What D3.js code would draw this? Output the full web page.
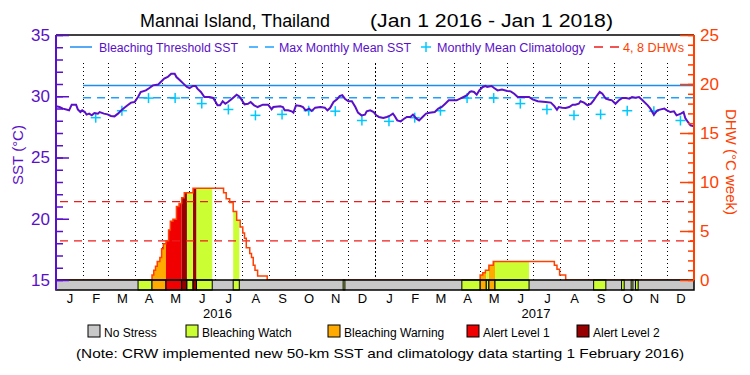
<!DOCTYPE html>
<html>
<head>
<meta charset="utf-8">
<title>Mannai Island, Thailand</title>
<script src="https://d3js.org/d3.v7.min.js"></script>
<style>
  body { margin: 0; background: #fff; }
  text { font-family: "Liberation Sans", Arial, sans-serif; }
</style>
</head>
<body>
<script>

//Daily SST, day counted from Jan 1 2016
var sstDay = [0, 4, 8, 15, 18, 23, 25, 28, 30, 33, 35, 38, 41, 44, 48, 50, 55, 59, 63, 67,
  71, 75, 78, 82, 86, 90, 94, 97, 103, 107, 111, 117, 120, 124, 128, 132, 136, 138, 142, 146,
  150, 153, 157, 160, 162, 166, 170, 176, 180, 183, 185, 188, 191, 194, 197, 201, 204, 207, 210, 213,
  216, 220, 223, 227, 231, 237, 243, 246, 247, 249, 257, 260, 262, 266, 270, 272, 275, 280, 283, 286,
  290, 293, 297, 303, 308, 311, 314, 318, 322, 325, 328, 331, 335, 339, 343, 346, 350, 354, 356, 360,
  364, 367, 370, 375, 379, 382, 386, 388, 391, 395, 398, 402, 406, 409, 413, 416, 420, 424, 428, 434,
  438, 442, 446, 450, 453, 459, 463, 467, 471, 474, 476, 479, 482, 485, 489, 492, 494, 499, 502, 506,
  511, 517, 521, 525, 529, 536, 542, 546, 552, 561, 567, 571, 574, 576, 580, 584, 588, 592, 595, 599,
  601, 605, 609, 613, 616, 620, 623, 626, 630, 634, 637, 641, 645, 649, 653, 657, 660, 664, 668, 672,
  678, 681, 685, 689, 693, 697, 700, 704, 708, 711, 716, 719, 721, 724, 727, 731];
var sstValue = [29.18, 29.12, 28.99, 28.85, 29.31, 29.31, 28.93, 28.71, 28.85, 28.71, 28.50, 28.58, 28.44, 28.63, 28.58, 28.71, 28.58, 28.52, 28.39, 28.36,
  28.58, 28.85, 29.04, 29.26, 29.48, 29.53, 29.94, 30.35, 30.48, 30.67, 30.89, 30.95, 31.16, 31.44, 31.57, 31.84, 31.84, 31.57, 31.30, 31.03,
  30.76, 30.67, 30.84, 30.84, 30.62, 30.35, 29.94, 29.94, 29.86, 29.53, 29.26, 29.26, 29.59, 29.39, 29.53, 29.75, 29.94, 30.13, 29.99, 29.67,
  29.34, 29.39, 29.53, 29.26, 29.12, 29.31, 29.31, 29.04, 28.93, 29.12, 29.18, 29.12, 28.85, 28.85, 28.77, 28.66, 29.26, 29.20, 29.12, 28.85,
  28.99, 28.80, 29.07, 29.12, 29.07, 28.85, 29.04, 29.53, 29.75, 30.02, 30.08, 29.80, 29.59, 29.59, 29.12, 28.66, 28.44, 28.50, 28.77, 28.85,
  28.71, 28.44, 28.31, 28.22, 28.31, 28.39, 28.58, 28.39, 28.03, 27.95, 28.12, 28.31, 28.31, 28.50, 28.17, 28.03, 28.31, 28.58, 28.66, 28.71,
  28.99, 29.12, 29.39, 29.67, 29.67, 29.67, 29.80, 29.94, 30.08, 30.35, 30.40, 30.35, 30.13, 30.48, 30.76, 30.84, 30.76, 30.84, 30.67, 30.48,
  30.54, 30.43, 30.40, 30.21, 29.94, 29.94, 29.94, 29.75, 29.59, 29.53, 29.48, 29.20, 28.90, 29.12, 29.07, 29.04, 29.12, 29.31, 29.31, 29.39,
  29.59, 29.48, 29.26, 29.39, 29.67, 30.08, 30.35, 30.21, 29.80, 29.72, 29.67, 29.39, 29.67, 29.86, 29.86, 29.80, 29.94, 29.88, 29.94, 29.67,
  29.26, 28.99, 28.50, 28.85, 28.93, 28.99, 28.85, 28.71, 28.77, 28.44, 28.58, 28.71, 28.22, 27.90, 27.63, 27.54];

//Monthly mean climatology, Jan..Dec (shown from Feb 2016)
var climValue = [27.95, 28.25, 28.82, 29.85, 29.85, 29.40, 28.92, 28.44, 28.52, 28.82, 28.78, 28.02];
var climStartDay = 31;
var mmmSST = 29.87;
var thresholdSST = 30.87;
var dhwLevels = [4, 8];

//Degree heating weeks (step values)
var dhwDay = [0, 110, 112, 114, 116, 119, 121, 123, 126, 129, 131, 134, 138, 141, 144, 147, 157,
  192, 195, 199, 203, 207, 211, 214, 216, 218, 222, 224, 226, 228, 231, 242,
  486, 489, 492, 496, 501, 571, 574, 577, 584, 731];
var dhwValue = [0, 0.5, 1.0, 1.4, 1.9, 2.3, 3.2, 3.7, 4.0, 5.1, 6.0, 6.2, 7.5, 7.8, 8.4, 8.9, 9.35,
  8.9, 8.3, 7.9, 7.0, 6.1, 5.4, 4.8, 4.25, 3.3, 2.7, 2.3, 1.5, 1.0, 0.4, 0,
  0.5, 0.75, 1.0, 1.5, 1.9, 1.5, 1.1, 0.5, 0, 0];

//Bleaching stress periods (level: 1 watch, 2 warning, 3 alert 1, 4 alert 2)
var stressStart = [94, 110, 126, 144, 150, 157, 161, 203, 329, 465, 486, 493, 496, 503, 616, 648, 659, 664];
var stressEnd   = [110, 126, 144, 150, 157, 161, 179, 210, 331, 486, 493, 496, 503, 542, 630, 651, 661, 667];
var stressLevel = [1, 2, 3, 4, 1, 4, 1, 1, 1, 1, 2, 1, 2, 1, 1, 1, 1, 1];
var stressNames = ["No Stress", "Bleaching Watch", "Bleaching Warning", "Alert Level 1", "Alert Level 2"];
var stressColors = ["#c8c8c8", "#ccff33", "#ffaa00", "#f00000", "#960000"];

var monthLabels = ["J", "F", "M", "A", "M", "J", "J", "A", "S", "O", "N", "D"];
var yearLabels = ["2016", "2017"];
var sstTicks = [15, 20, 25, 30, 35];
var dhwTicks = [0, 5, 10, 15, 20, 25];

var purple = "#5a0fc8", orange = "#ff4000";

var w = 750, h = 375;
var t0 = Date.UTC(2016, 0, 1);
function dayDate(d) { return new Date(t0 + d * 864e5); }

var svg = d3.select("body").append("svg")
  .attr("width", w).attr("height", h);

var x = d3.scaleUtc().domain([dayDate(0), dayDate(731)]).range([56, 694]);
var ySST = d3.scaleLinear().domain([15, 35]).range([280, 35]);
var yDHW = d3.scaleLinear().domain([0, 25]).range([280, 35]);

//Title
svg.append("text").attr("x", 140).attr("y", 27).attr("font-size", "17.5px")
  .attr("textLength", 190).attr("lengthAdjust", "spacingAndGlyphs")
  .text("Mannai Island, Thailand");
svg.append("text").attr("x", 370).attr("y", 27).attr("font-size", "17.5px")
  .attr("textLength", 243).attr("lengthAdjust", "spacingAndGlyphs")
  .text("(Jan 1 2016 - Jan 1 2018)");

//Month grid lines
var monthStarts = d3.utcMonths(dayDate(1), dayDate(731));
svg.selectAll("line.grid")
  .data(monthStarts)
  .enter().append("line")
  .attr("class", "grid")
  .attr("x1", function(d) { return Math.round(x(d)) + 0.5; })
  .attr("x2", function(d) { return Math.round(x(d)) + 0.5; })
  .attr("y1", 63).attr("y2", 280)
  .attr("stroke", "#000")
  .attr("stroke-dasharray", function(d) { return d.getUTCMonth() === 0 ? "2,2" : "1,3"; });

//Threshold and MMM lines
svg.append("line")
  .attr("x1", x(dayDate(climStartDay))).attr("x2", x.range()[1])
  .attr("y1", ySST(thresholdSST)).attr("y2", ySST(thresholdSST))
  .attr("stroke", "#1e8cf0").attr("stroke-width", 1.5);
svg.append("line")
  .attr("x1", x(dayDate(climStartDay))).attr("x2", x.range()[1])
  .attr("y1", ySST(mmmSST)).attr("y2", ySST(mmmSST))
  .attr("stroke", "#1ea0ff").attr("stroke-width", 1.5)
  .attr("stroke-dasharray", "8,6");

//Climatology crosses
var climMonths = d3.utcMonths(dayDate(climStartDay), dayDate(731));
var crosses = svg.selectAll("g.clim")
  .data(climMonths)
  .enter().append("g")
  .attr("class", "clim")
  .attr("transform", function(d) {
    var mid = new Date((d.getTime() + d3.utcMonth.offset(d, 1).getTime()) / 2);
    return "translate(" + x(mid) + "," + ySST(climValue[d.getUTCMonth()]) + ")";
  });
crosses.append("line").attr("x1", -5).attr("x2", 5).attr("y1", 0).attr("y2", 0);
crosses.append("line").attr("x1", 0).attr("x2", 0).attr("y1", -5).attr("y2", 5);
crosses.selectAll("line").attr("stroke", "#00c8ff").attr("stroke-width", 1.5);

//SST line
var sstLine = d3.line()
  .x(function(d, i) { return x(dayDate(sstDay[i])); })
  .y(function(d) { return ySST(d); });
svg.append("path")
  .attr("d", sstLine(sstValue))
  .attr("fill", "none")
  .attr("stroke", purple)
  .attr("stroke-width", 2);

//DHW fills, coloured by stress level
var dhwPoints = dhwDay.map(function(d, i) { return [d, dhwValue[i]]; });
var dhwArea = d3.area()
  .x(function(d) { return x(dayDate(d[0])); })
  .y0(yDHW(0))
  .y1(function(d) { return yDHW(d[1]); })
  .curve(d3.curveStepAfter);
var defs = svg.append("defs");
stressStart.forEach(function(s, i) {
  defs.append("clipPath").attr("id", "seg" + i)
    .append("rect")
    .attr("x", x(dayDate(s))).attr("y", 0)
    .attr("width", x(dayDate(stressEnd[i])) - x(dayDate(s)))
    .attr("height", h);
  svg.append("path")
    .attr("d", dhwArea(dhwPoints))
    .attr("clip-path", "url(#seg" + i + ")")
    .attr("fill", stressColors[stressLevel[i]]);
});

//DHW 4 and 8 lines
svg.selectAll("line.dhw")
  .data(dhwLevels)
  .enter().append("line")
  .attr("class", "dhw")
  .attr("x1", x.range()[0] + 4).attr("x2", x.range()[1])
  .attr("y1", function(d) { return yDHW(d); })
  .attr("y2", function(d) { return yDHW(d); })
  .attr("stroke", "#ee1c1c").attr("stroke-width", 1.3)
  .attr("stroke-dasharray", "8,6");

//DHW line
var dhwLine = d3.line()
  .x(function(d) { return x(dayDate(d[0])); })
  .y(function(d) { return yDHW(d[1]); })
  .curve(d3.curveStepAfter);
svg.append("path")
  .attr("d", dhwLine(dhwPoints))
  .attr("fill", "none")
  .attr("stroke", orange)
  .attr("stroke-width", 1.5);

//Stress bar
var barY = 280, barH = 10;
svg.append("rect")
  .attr("x", x.range()[0]).attr("y", barY)
  .attr("width", x.range()[1] - x.range()[0]).attr("height", barH)
  .attr("fill", stressColors[0]);
svg.selectAll("rect.stress")
  .data(stressStart)
  .enter().append("rect")
  .attr("class", "stress")
  .attr("x", function(d) { return x(dayDate(d)); })
  .attr("y", barY)
  .attr("width", function(d, i) { return x(dayDate(stressEnd[i])) - x(dayDate(d)); })
  .attr("height", barH)
  .attr("fill", function(d, i) { return stressColors[stressLevel[i]]; })
  .attr("stroke", "#000").attr("stroke-width", 1);
svg.append("rect")
  .attr("x", x.range()[0]).attr("y", barY)
  .attr("width", x.range()[1] - x.range()[0]).attr("height", barH)
  .attr("fill", "none").attr("stroke", "#000").attr("stroke-width", 1.5);

//Top border
svg.append("line")
  .attr("x1", x.range()[0]).attr("x2", x.range()[1])
  .attr("y1", 35).attr("y2", 35)
  .attr("stroke", "#000").attr("stroke-width", 1.5);

//Left axis (SST)
var leftMinor = svg.append("g").attr("transform", "translate(56,0)")
  .call(d3.axisLeft(ySST).tickValues(d3.range(15, 36)).tickSize(-7).tickFormat(""));
var leftAxis = svg.append("g").attr("transform", "translate(56,0)")
  .call(d3.axisLeft(ySST).tickValues(sstTicks).tickSizeInner(-13).tickSizeOuter(0).tickPadding(6));
[leftMinor, leftAxis].forEach(function(g) {
  g.select(".domain").remove();
  g.selectAll("line").attr("stroke", purple).attr("stroke-width", 1.5);
});
leftAxis.selectAll("text").attr("fill", purple).attr("font-size", "17px")
  .attr("font-family", "Liberation Sans, Arial, sans-serif");
svg.append("line").attr("x1", 56).attr("x2", 56).attr("y1", 35).attr("y2", 290)
  .attr("stroke", purple).attr("stroke-width", 2);

//Right axis (DHW)
var rightMinor = svg.append("g").attr("transform", "translate(694,0)")
  .call(d3.axisRight(yDHW).tickValues(d3.range(0, 26)).tickSize(-6).tickFormat(""));
var rightAxis = svg.append("g").attr("transform", "translate(694,0)")
  .call(d3.axisRight(yDHW).tickValues(dhwTicks).tickSizeInner(-14).tickSizeOuter(0).tickPadding(6));
[rightMinor, rightAxis].forEach(function(g) {
  g.select(".domain").remove();
  g.selectAll("line").attr("stroke", orange).attr("stroke-width", 1.5);
});
rightAxis.selectAll("text").attr("fill", orange).attr("font-size", "17px")
  .attr("font-family", "Liberation Sans, Arial, sans-serif");
svg.append("line").attr("x1", 694).attr("x2", 694).attr("y1", 35).attr("y2", 280)
  .attr("stroke", orange).attr("stroke-width", 2);

//Axis titles
svg.append("text")
  .attr("transform", "translate(23,155) rotate(-90)")
  .attr("text-anchor", "middle").attr("fill", purple).attr("font-size", "15px")
  .text("SST (°C)");
svg.append("text")
  .attr("transform", "translate(726,162) rotate(90)")
  .attr("text-anchor", "middle").attr("fill", orange).attr("font-size", "15px")
  .text("DHW (°C week)");

//Month labels
var monthMids = d3.utcMonths(dayDate(0), dayDate(731)).map(function(d) {
  return new Date((d.getTime() + d3.utcMonth.offset(d, 1).getTime()) / 2);
});
var monthAxis = svg.append("g").attr("transform", "translate(0,290)")
  .call(d3.axisBottom(x).tickValues(monthMids).tickSize(0).tickPadding(4)
    .tickFormat(function(d) { return monthLabels[d.getUTCMonth()]; }));
monthAxis.select(".domain").remove();
monthAxis.selectAll("text").attr("fill", "#000").attr("font-size", "13px")
  .attr("font-family", "Liberation Sans, Arial, sans-serif");

svg.selectAll("text.year")
  .data(yearLabels)
  .enter().append("text")
  .attr("class", "year")
  .attr("x", function(d) { return x(new Date(Date.UTC(+d, 6, 4))); })
  .attr("y", 318)
  .attr("text-anchor", "middle").attr("font-size", "13px")
  .text(function(d) { return d; });

//Top legend
var lg = svg.append("g");
lg.append("line").attr("x1", 70).attr("x2", 92).attr("y1", 47).attr("y2", 47)
  .attr("stroke", "#1e8cf0").attr("stroke-width", 1.5);
lg.append("text").attr("x", 99).attr("y", 52).attr("fill", purple).attr("font-size", "12px")
  .attr("textLength", 139).attr("lengthAdjust", "spacingAndGlyphs")
  .text("Bleaching Threshold SST");
lg.append("line").attr("x1", 249).attr("x2", 274).attr("y1", 47).attr("y2", 47)
  .attr("stroke", "#1ea0ff").attr("stroke-width", 1.5).attr("stroke-dasharray", "9,7");
lg.append("text").attr("x", 279).attr("y", 52).attr("fill", purple).attr("font-size", "12px")
  .attr("textLength", 132).attr("lengthAdjust", "spacingAndGlyphs")
  .text("Max Monthly Mean SST");
lg.append("line").attr("x1", 421).attr("x2", 431).attr("y1", 47).attr("y2", 47)
  .attr("stroke", "#00c8ff").attr("stroke-width", 1.5);
lg.append("line").attr("x1", 426).attr("x2", 426).attr("y1", 42).attr("y2", 52)
  .attr("stroke", "#00c8ff").attr("stroke-width", 1.5);
lg.append("text").attr("x", 437).attr("y", 52).attr("fill", purple).attr("font-size", "12px")
  .attr("textLength", 148).attr("lengthAdjust", "spacingAndGlyphs")
  .text("Monthly Mean Climatology");
lg.append("line").attr("x1", 594).attr("x2", 619).attr("y1", 47).attr("y2", 47)
  .attr("stroke", "#ee1c1c").attr("stroke-width", 1.5).attr("stroke-dasharray", "9,7");
lg.append("text").attr("x", 623).attr("y", 52).attr("fill", orange).attr("font-size", "12px")
  .attr("textLength", 61).attr("lengthAdjust", "spacingAndGlyphs")
  .text("4, 8 DHWs");

//Bottom legend
var boxX = [88, 186, 328, 467, 577];
var bl = svg.selectAll("g.stressLegend")
  .data(stressNames)
  .enter().append("g")
  .attr("class", "stressLegend")
  .attr("transform", function(d, i) { return "translate(" + boxX[i] + ",325)"; });
bl.append("rect").attr("width", 12).attr("height", 12)
  .attr("fill", function(d, i) { return stressColors[i]; })
  .attr("stroke", "#000").attr("stroke-width", 1);
bl.append("text").attr("x", 16).attr("y", 11.5).attr("font-size", "12px")
  .text(function(d) { return d; });

svg.append("text").attr("x", 380).attr("y", 358)
  .attr("text-anchor", "middle").attr("font-size", "13.5px")
  .attr("textLength", 608).attr("lengthAdjust", "spacingAndGlyphs")
  .text("(Note: CRW implemented new 50-km SST and climatology data starting 1 February 2016)");

</script>
</body>
</html>
